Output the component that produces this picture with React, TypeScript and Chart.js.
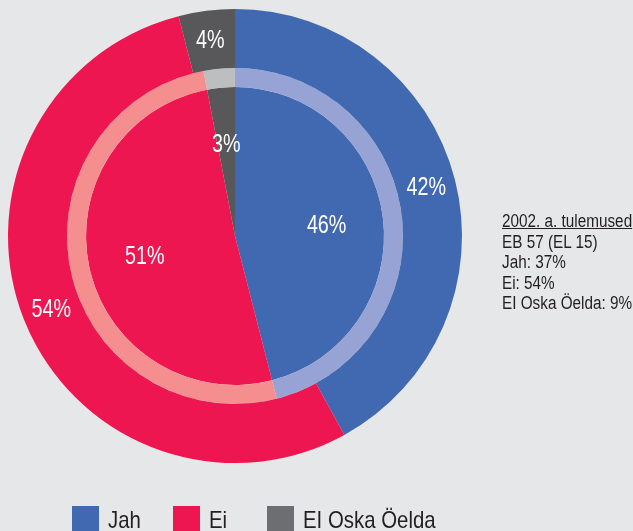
import React, { useEffect, useRef } from "react";
import { Chart, registerables } from "chart.js";

Chart.register(...registerables);

// ---- data ----
const categories = ["Jah", "Ei", "EI Oska Öelda"];
const outerValues = [42, 54, 4]; // outer ring
const innerValues = [46, 51, 3]; // inner pie
const noteLines = ["2002. a. tulemused", "EB 57 (EL 15)", "Jah: 37%", "Ei: 54%", "EI Oska Öelda: 9%"];

// ---- styles ----
const mainColors = ["#4169b1", "#ee1651", "#58585a"];
const lightColors = ["#97a3d5", "#f58e8e", "#bdbec0"];
const legendColors = ["#4169b1", "#ee1651", "#6d6e71"];
const BG = "#e6e7e8";
const TEXT = "#231f20";
const legendLeft = [72, 173, 267];

const labelPlugin = {
  id: "sliceLabels",
  afterDatasetsDraw(chart: any) {
    const ctx = chart.ctx;
    chart.data.datasets.forEach((ds: any, di: number) => {
      if (!ds.showLabels) return;
      const meta = chart.getDatasetMeta(di);
      meta.data.forEach((arc: any, i: number) => {
        const p = arc.getProps(["x", "y", "startAngle", "endAngle", "innerRadius", "outerRadius"], true);
        const mid = (p.startAngle + p.endAngle) / 2;
        const r = p.innerRadius > 0 ? (p.innerRadius + p.outerRadius) / 2 : p.outerRadius * 0.62;
        const x = p.x + Math.cos(mid) * r;
        const y = p.y + Math.sin(mid) * r;
        ctx.save();
        ctx.translate(x, y);
        ctx.scale(0.76, 1);
        ctx.fillStyle = "#ffffff";
        ctx.font = "26px 'Liberation Sans', Arial, sans-serif";
        ctx.textAlign = "center";
        ctx.textBaseline = "middle";
        ctx.fillText(ds.data[i] + "%", 0, 1);
        ctx.restore();
      });
    });
  },
};

export default function App() {
  const ref = useRef<HTMLCanvasElement>(null);
  useEffect(() => {
    const chart = new Chart(ref.current!, {
      type: "doughnut",
      data: {
        labels: categories,
        datasets: [
          { data: outerValues, backgroundColor: mainColors, borderWidth: 0, weight: 59, showLabels: true } as any,
          { data: innerValues, backgroundColor: lightColors, borderWidth: 0, weight: 19 } as any,
          { data: innerValues, backgroundColor: mainColors, borderWidth: 0, weight: 149, showLabels: true } as any,
        ],
      },
      options: {
        responsive: false,
        animation: false,
        cutout: 0,
        events: [],
        layout: { padding: { left: 8, top: 9, right: 171, bottom: 68 } },
        plugins: { legend: { display: false }, tooltip: { enabled: false } },
      },
      plugins: [labelPlugin],
    });
    return () => chart.destroy();
  }, []);

  const narrow = (size: number, scale: number, extra: React.CSSProperties = {}): React.CSSProperties => ({
    fontFamily: "'Liberation Sans', Arial, sans-serif",
    fontSize: size,
    color: TEXT,
    whiteSpace: "nowrap",
    transform: `scaleX(${scale})`,
    transformOrigin: "left top",
    ...extra,
  });

  return (
    <div style={{ position: "fixed", left: 0, top: 0, width: 633, height: 531, background: BG, overflow: "hidden" }}>
      <canvas ref={ref} width={633} height={531} style={{ position: "absolute", left: 0, top: 0 }} />
      <div style={{ position: "absolute", left: 502, top: 211 }}>
        {noteLines.map((t, i) => (
          <div key={i} style={narrow(18, 0.85, { lineHeight: "20.5px", textDecoration: i === 0 ? "underline" : "none" })}>
            {t}
          </div>
        ))}
      </div>
      {categories.map((c, i) => (
        <div key={c} style={{ position: "absolute", left: legendLeft[i], top: 506, display: "flex", alignItems: "flex-start" }}>
          <div style={{ width: 27, height: 27, background: legendColors[i], flex: "none" }} />
          <div style={{ marginLeft: 9, height: 27 }}>
            <div style={narrow(24, 0.85, { lineHeight: "27px" })}>{c}</div>
          </div>
        </div>
      ))}
    </div>
  );
}
